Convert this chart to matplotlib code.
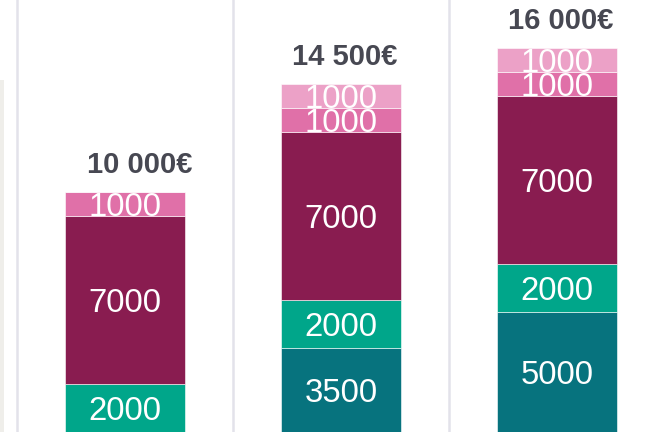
import numpy as np
import matplotlib.pyplot as plt
import matplotlib.patches as patches

plt.rcParams['font.family'] = ['Liberation Sans', 'DejaVu Sans']

# stacked segments, bottom to top
teal = [0, 3500, 5000]
green = [2000, 2000, 2000]
purple = [7000, 7000, 7000]
pink = [1000, 1000, 1000]
light_pink = [0, 1000, 1000]
totals = ['10 000€', '14 500€', '16 000€']

series = [teal, green, purple, pink, light_pink]
colors = ['#07737e', '#00a68a', '#891c50', '#e070a8', '#eca1c7']

fig = plt.figure(figsize=(6.54, 4.32), dpi=100)
ax = fig.add_axes([0, 0, 1, 1])

x = np.arange(len(teal))
bottom = np.zeros(len(x))
for vals, col in zip(series, colors):
    vals = np.array(vals, dtype=float)
    ax.bar(x, vals, width=0.56, bottom=bottom, color=col,
           edgecolor='#ffffff', linewidth=0.4, zorder=2)
    for xi, b, v in zip(x, bottom, vals):
        if v > 0:
            ax.annotate('%d' % v, (xi, b + v / 2), xytext=(0, -3),
                        textcoords='offset pixels', ha='center', va='center',
                        color='white', fontsize=23.7, zorder=3)
    bottom += vals

# totals above each column
dx = [15, 3.5, 3.5]
for xi, top, lab, d in zip(x, bottom, totals, dx):
    ax.annotate(lab, (xi, top), xytext=(d, 19), textcoords='offset pixels',
                ha='center', va='baseline', fontsize=21, fontweight='bold',
                color='#474852')

# column separators
for s in np.arange(len(x) + 1) - 0.5:
    ax.axvline(s, color='#e3e2ea', linewidth=1.8, zorder=1)

ax.set_xlim(-125 / 216, 529 / 216)
ax.set_ylim(0, 18000)
ax.axis('off')

# faint strip at the left edge
fig.patches.append(patches.Rectangle((0, 0), 4 / 654, 352 / 432,
                                     transform=fig.transFigure,
                                     facecolor='#efeeea', edgecolor='none'))

fig.savefig('out.png', dpi=100)
